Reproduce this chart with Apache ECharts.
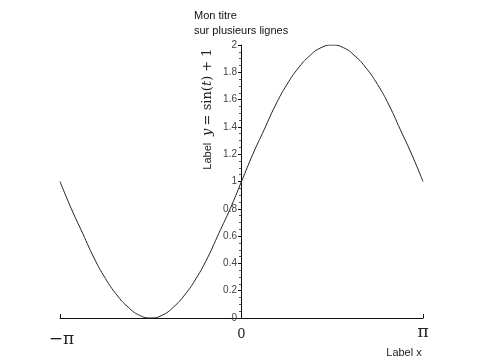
<!DOCTYPE html>
<html lang="fr">
  <head>
    <meta charset="UTF-8" />
    <title>sin(t)+1</title>
    <script src="https://cdn.jsdelivr.net/npm/echarts@6.0.0/dist/echarts.min.js"></script>
  </head>
  <body style="margin: 0; background: #fff">
    <div id="main" style="width: 483px; height: 364px"></div>
    <script type="text/javascript">
      // t values (steps of pi/16) and y = sin(t) + 1
      const tValues = [
        -3.1416, -2.9452, -2.7489, -2.5525, -2.3562, -2.1598, -1.9635, -1.7671,
        -1.5708, -1.3744, -1.1781, -0.9817, -0.7854, -0.589, -0.3927, -0.1963,
        0, 0.1963, 0.3927, 0.589, 0.7854, 0.9817, 1.1781, 1.3744, 1.5708,
        1.7671, 1.9635, 2.1598, 2.3562, 2.5525, 2.7489, 2.9452, 3.1416,
      ];
      const yValues = [
        1.0, 0.8, 0.62, 0.44, 0.29, 0.17, 0.08, 0.02, 0.0, 0.02, 0.08, 0.17,
        0.29, 0.44, 0.62, 0.8, 1.0, 1.2, 1.38, 1.56, 1.71, 1.83, 1.92, 1.98,
        2.0, 1.98, 1.92, 1.83, 1.71, 1.56, 1.38, 1.2, 1.0,
      ];
      const xTicks = [-3.1416, 0, 3.1416];
      const xTickLabels = ["−π", "0", "π"];
      const titleLines = ["Mon titre", "sur plusieurs lignes"];

      const serif = "DejaVu Serif";
      const sans = "Liberation Sans";

      let myChart = echarts.init(document.getElementById("main"));

      let options = {
        animation: false,
        title: {
          text: titleLines.join("\n"),
          left: 189,
          top: 3,
          textStyle: {
            fontFamily: sans,
            fontSize: 11,
            fontWeight: "normal",
            color: "#111",
            lineHeight: 15,
          },
        },
        grid: { left: 60, right: 60, top: 45, bottom: 46 },
        xAxis: {
          type: "value",
          min: -3.1416,
          max: 3.1416,
          splitLine: { show: false },
          axisLine: { lineStyle: { color: "#111", width: 1 } },
          axisTick: {
            inside: true,
            length: 4,
            customValues: [-3.1416, 3.1416],
            lineStyle: { color: "#111" },
          },
          axisLabel: {
            customValues: xTicks,
            margin: 6,
            formatter: (v) => {
              const i = xTicks.findIndex((t) => Math.abs(t - v) < 0.01);
              const key = i === 0 ? "m" : i === 1 ? "z" : "p";
              return "{" + key + "|" + xTickLabels[i] + "}";
            },
            rich: {
              m: { fontFamily: serif, fontSize: 17, color: "#222", padding: [7, 0, 0, 3] },
              z: { fontFamily: serif, fontSize: 13, color: "#222", padding: [4, 0, 0, 0] },
              p: { fontFamily: serif, fontSize: 17, color: "#222", padding: [0, 0, 0, 0] },
            },
          },
        },
        yAxis: {
          type: "value",
          min: 0,
          max: 2,
          interval: 0.2,
          offset: -181,
          splitLine: { show: false },
          axisLine: { onZero: false, lineStyle: { color: "#111", width: 1 } },
          axisTick: { length: 3, lineStyle: { color: "#111" } },
          minorTick: { show: true, splitNumber: 4, length: 2, lineStyle: { color: "#555" } },
          axisLabel: {
            fontFamily: sans,
            fontSize: 10,
            color: "#444",
            margin: 4,
          },
        },
        graphic: [
          {
            type: "text",
            x: 404,
            y: 353,
            style: {
              text: "Label x",
              fontFamily: sans,
              fontSize: 11,
              fill: "#222",
              align: "center",
              verticalAlign: "middle",
            },
          },
          {
            type: "text",
            x: 208,
            y: 109,
            rotation: Math.PI / 2,
            style: {
              text: "{s|Label}  {i|y} {r|= sin(}{i|t}{r|) + 1}",
              align: "center",
              verticalAlign: "middle",
              rich: {
                s: { fontFamily: sans, fontSize: 11, fill: "#222" },
                i: { fontFamily: serif, fontStyle: "italic", fontSize: 13, fill: "#222" },
                r: { fontFamily: serif, fontSize: 13, fill: "#222" },
              },
            },
          },
        ],
        series: [
          {
            type: "line",
            data: tValues.map((t, i) => [t, yValues[i]]),
            smooth: true,
            showSymbol: false,
            lineStyle: { color: "#222", width: 1 },
          },
        ],
      };

      myChart.setOption(options);
    </script>
  </body>
</html>
